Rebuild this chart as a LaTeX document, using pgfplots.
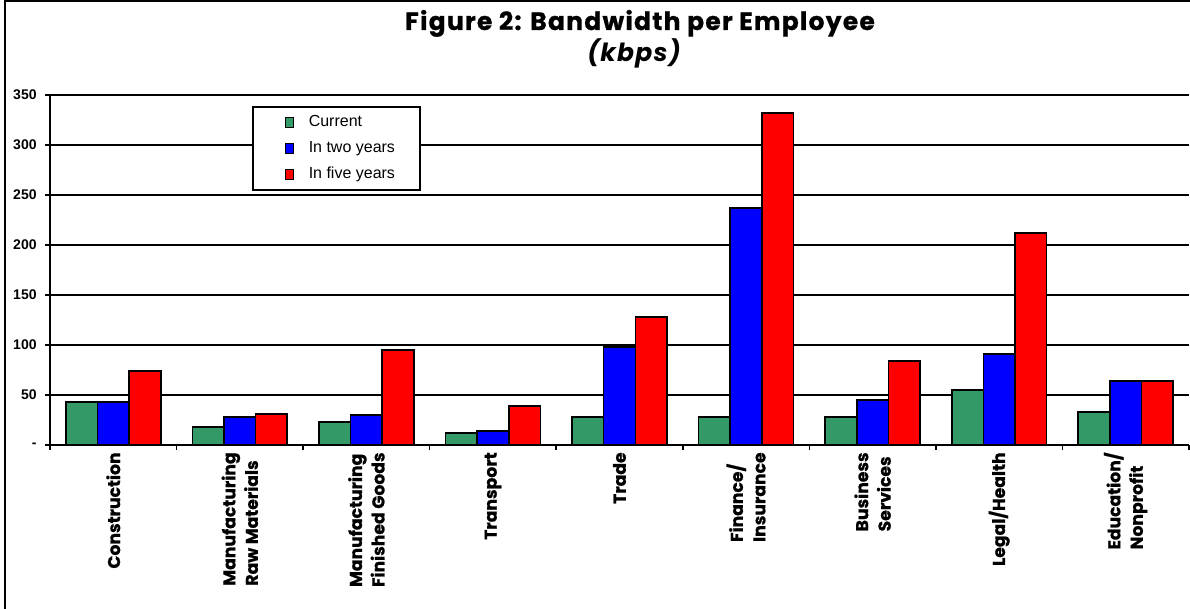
\documentclass[border=0pt]{standalone}
\usepackage{fontspec}
\setmainfont{Liberation Sans}
\newfontfamily\geo{Poppins}
\newfontfamily\geoh{Poppins}[BoldFeatures={FakeBold=0.8}]
\usepackage{pgfplots}
\pgfplotsset{compat=1.18}
\definecolor{cgreen}{RGB}{51,153,102}
\definecolor{cblue}{RGB}{0,0,255}
\definecolor{cred}{RGB}{255,0,0}
\pgfplotsset{mylegend/.style={legend image code/.code={\path[draw=none,fill=none] (-4pt,0) rectangle (11.5pt,0.1pt); \draw[##1, line width=0.6pt] (0pt,-2.5pt) rectangle (4pt,2.5pt);}}}
\begin{document}
\begin{tikzpicture}
\useasboundingbox (0,0) rectangle (595pt,304.5pt);
\draw[line width=1pt] (2.5pt,-5pt) -- (2.5pt,304pt) -- (600pt,304pt);
\node[anchor=base, inner sep=0pt] at (320pt,289.5pt) {\geoh\bfseries\fontsize{12.5}{14}\selectfont\addfontfeatures{LetterSpace=5} Figure 2: Bandwidth per Employee};
\node[anchor=base, inner sep=0pt] at (317pt,273.5pt) {\geoh\bfseries\itshape\fontsize{12.5}{14}\selectfont\addfontfeatures{LetterSpace=5} (kbps)};
\begin{axis}[
  at={(25pt,82pt)}, anchor=south west,
  width=569.5pt, height=175pt, scale only axis,
  xmin=-0.5, xmax=8.5, ymin=0, ymax=350,
  ybar=0pt, bar width=0.25,
  axis x line*=bottom, axis y line*=left,
  axis line style={line width=1pt, -},
  ymajorgrids, grid style={black, line width=1pt},
  ytick={0,50,...,350}, yticklabels={-,50,100,150,200,250,300,350},
  yticklabel style={font=\fontsize{7}{8}\selectfont\bfseries, inner sep=0pt, xshift=-4pt},
  xtick={-0.5,0.5,...,8.5}, xticklabels={},
  extra x ticks={0,1,2,3,4,5,6,7,8},
  extra x tick labels={Construction,{Manufacturing\\Raw Materials},{Manufacturing\\Finished Goods},Transport,Trade,{Finance/\\Insurance},{Business\\Services},Legal/Health,{Education/\\Nonprofit}},
  extra x tick style={major tick length=0pt, xticklabel shift=3.5pt, xticklabel style={rotate=90, anchor=east, align=left, inner sep=0pt, font=\geoh\bfseries\fontsize{8.6}{11.25}\selectfont}},
  tick align=outside, major tick length=2.5pt,
  tick style={black, line width=0.8pt},
  legend style={at={(rel axis cs:0.1773,0.9686)}, anchor=north west, draw=black, line width=0.8pt, fill=white,
    inner xsep=12.5pt, inner ysep=3.75pt, row sep=5pt,
    font=\fontsize{8}{9}\selectfont,
    nodes={inner sep=0pt, text height=6pt, text depth=2pt}},
  legend cell align=left,
]
\addplot[fill=cgreen, draw=black, line width=0.8pt, mylegend] coordinates {(0,43) (1,18) (2,23) (3,12) (4,28) (5,28) (6,28) (7,55) (8,33)};
\addplot[fill=cblue, draw=black, line width=0.8pt, mylegend] coordinates {(0,43) (1,28) (2,30) (3,14) (4,98) (5,237) (6,45) (7,91) (8,64)};
\addplot[fill=cred, draw=black, line width=0.8pt, mylegend] coordinates {(0,74) (1,31) (2,95) (3,39) (4,128) (5,332) (6,84) (7,212) (8,64)};
\legend{Current,In two years,In five years}
\end{axis}
\end{tikzpicture}
\end{document}
